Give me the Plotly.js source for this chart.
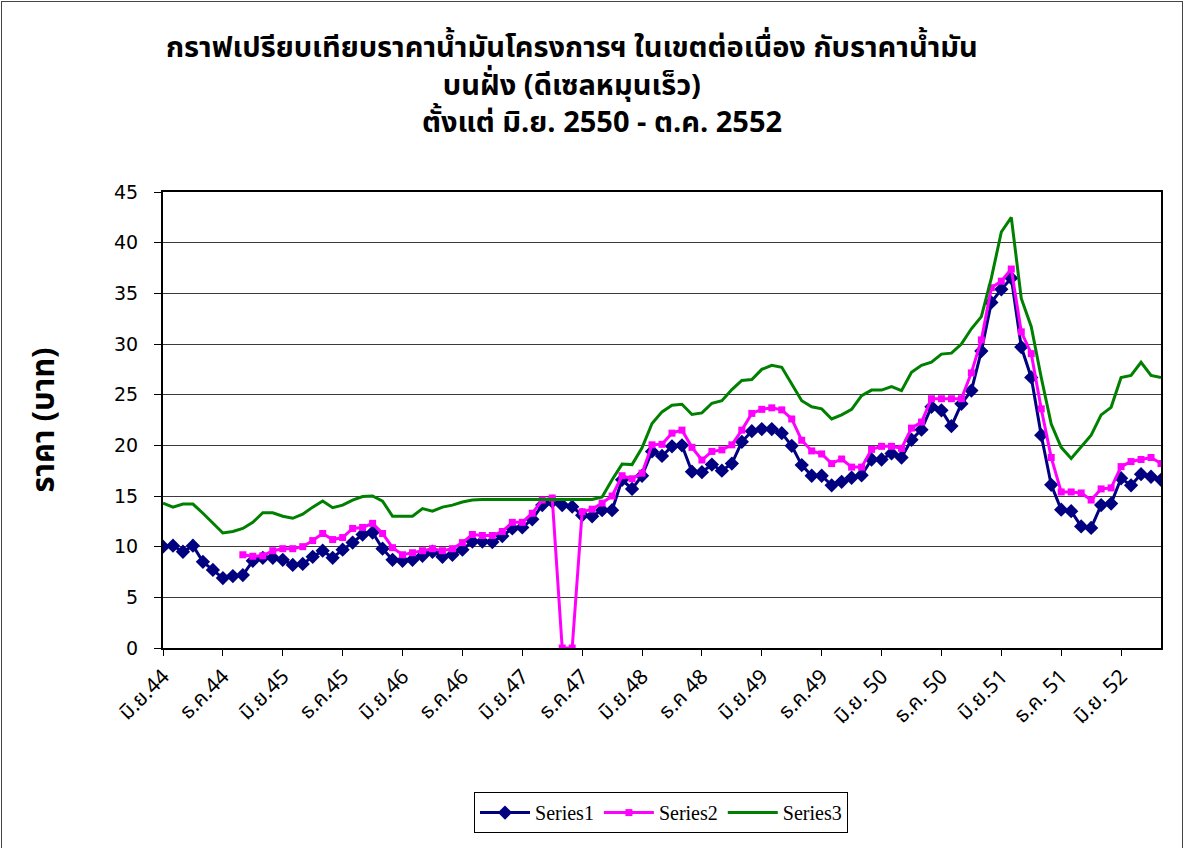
<!DOCTYPE html>
<html>
<head>
<meta charset="utf-8">
<script src="https://cdn.plot.ly/plotly-3.0.1.min.js"></script>
<style>
  html, body { margin: 0; padding: 0; background: #ffffff; overflow: hidden; }
  #chart { width: 1184px; height: 848px; position: absolute; left: 0; top: 0; }
  #frame { position: absolute; left: 1px; top: 1px; width: 1180px; height: 900px; border: 1px solid #444; pointer-events: none; }
</style>
</head>
<body>
<div id="chart"></div>
<div id="frame"></div>
<script>
// ---- Data ----
const monthNames = ['มิ.ย.','ก.ค.','ส.ค.','ก.ย.','ต.ค.','พ.ย.','ธ.ค.','ม.ค.','ก.พ.','มี.ค.','เม.ย.','พ.ค.'];
const startYear = 44;
const nMonths = 101;

const tickLabels = ['มิ.ย.44','ธ.ค.44','มิ.ย.45','ธ.ค.45','มิ.ย.46','ธ.ค.46','มิ.ย.47','ธ.ค.47',
  'มิ.ย.48','ธ.ค 48','มิ.ย.49','ธ.ค.49','มิ.ย. 50','ธ.ค. 50','มิ.ย.51','ธ.ค. 51','มิ.ย. 52'];

const series1 = [10.0,10.1,9.5,10.1,8.5,7.7,6.9,7.1,7.2,8.6,
  8.9,8.9,8.7,8.2,8.3,9.0,9.6,8.9,9.7,10.4,
  11.2,11.4,9.8,8.7,8.6,8.7,9.1,9.5,9.0,9.2,
  9.7,10.5,10.5,10.45,11.05,11.8,11.9,12.7,14.1,14.45,
  14.1,13.95,13.1,13.0,13.6,13.6,16.6,15.7,17.0,19.4,
  18.95,19.9,20.0,17.4,17.35,18.1,17.5,18.2,20.35,21.4,
  21.6,21.6,21.2,19.95,18.05,17.0,17.0,16.05,16.4,16.8,
  17.05,18.6,18.6,19.2,18.8,20.55,21.55,23.8,23.45,21.9,
  24.1,25.4,29.3,34.1,35.4,36.5,29.7,26.7,21.0,16.1,
  13.65,13.5,12.0,11.85,14.1,14.25,16.75,16.05,17.15,16.9,
  16.6];

const series2 = [null,null,null,null,null,null,null,null,9.2,9.05,
  9.1,9.6,9.8,9.8,10.0,10.6,11.3,10.7,10.9,11.8,
  11.9,12.3,11.3,9.9,9.2,9.4,9.6,9.8,9.6,9.8,
  10.4,11.2,11.1,11.1,11.5,12.4,12.4,13.3,14.6,14.8,
  0,0,13.45,13.7,14.3,15.0,17.0,16.7,17.25,20.05,
  20.1,21.2,21.5,19.8,18.55,19.4,19.55,20.05,21.5,23.15,
  23.55,23.7,23.5,22.6,20.5,19.45,19.15,18.2,18.65,17.85,
  17.85,19.6,19.9,19.9,19.7,21.7,22.3,24.6,24.6,24.6,
  24.6,27.15,30.4,35.55,36.2,37.4,31.2,29.05,23.6,18.8,
  15.4,15.4,15.3,14.6,15.7,15.8,17.9,18.4,18.6,18.8,
  18.2];

const series3 = [14.3,13.9,14.2,14.2,13.3,12.3,11.35,11.5,11.8,12.4,
  13.35,13.35,13.0,12.8,13.2,13.9,14.5,13.85,14.1,14.6,
  14.95,15.0,14.5,13.0,13.0,13.0,13.75,13.5,13.9,14.1,
  14.4,14.6,14.65,14.65,14.65,14.65,14.65,14.65,14.65,14.65,
  14.65,14.65,14.65,14.65,14.9,16.6,18.15,18.1,19.75,22.15,
  23.3,23.95,24.05,23.05,23.2,24.15,24.4,25.5,26.4,26.5,
  27.5,27.9,27.7,26.0,24.4,23.8,23.6,22.6,23.0,23.55,
  24.9,25.45,25.45,25.8,25.4,27.2,27.9,28.2,29.0,29.1,
  30.0,31.5,32.7,36.5,41.05,42.5,34.5,31.7,26.7,22.1,
  19.8,18.7,19.8,21.0,23.0,23.75,26.7,26.9,28.2,26.9,
  26.7];

// ---- Build categories (monthly) ----
const categories = [];
for (let i = 0; i < nMonths; i++) {
  const m = i % 12;
  const yr = startYear + Math.floor((i + 5) / 12);
  categories.push(monthNames[m] + yr);
}
const tickVals = [];
for (let i = 0; i < nMonths; i += 6) tickVals.push(categories[i]);

const thaiFont = "Tahoma, 'Noto Sans Thai', 'Noto Sans Thai UI', 'Loma', 'Garuda', 'DejaVu Sans', sans-serif";
const numFont = "'DejaVu Sans', Tahoma, sans-serif";

const titleLines = ['กราฟเปรียบเทียบราคาน้ำมันโครงการฯ ในเขตต่อเนื่อง กับราคาน้ำมัน',
  'บนฝั่ง (ดีเซลหมุนเร็ว)',
  '\u00A0\u00A0\u00A0\u00A0\u00A0\u00A0\u00A0\u00A0ตั้งแต่ มิ.ย. 2550 - ต.ค. 2552'];

const traces = [
  { x: categories, y: series1, name: 'Series1', type: 'scatter', mode: 'lines+markers',
    line: { color: '#000080', width: 3 },
    marker: { symbol: 'diamond', size: 11, color: '#000080' } },
  { x: categories, y: series2, name: 'Series2', type: 'scatter', mode: 'lines+markers',
    line: { color: '#FF00FF', width: 3 }, connectgaps: false,
    marker: { symbol: 'square', size: 7, color: '#FF00FF' } },
  { x: categories, y: series3, name: 'Series3', type: 'scatter', mode: 'lines',
    line: { color: '#008000', width: 3 } }
];

const layout = {
  width: 1184, height: 848,
  paper_bgcolor: '#ffffff', plot_bgcolor: '#ffffff',
  margin: { l: 163, r: 23, t: 192, b: 200 },
  title: {
    text: titleLines.map(s => '<b>' + s + '</b>').join('<br>'),
    font: { family: thaiFont, size: 29, color: '#000000' },
    xref: 'container', x: 0.483, xanchor: 'center',
    yref: 'container', y: 0.933, yanchor: 'middle'
  },
  showlegend: true,
  legend: {
    orientation: 'h', x: 0.499, xanchor: 'center', y: -0.316, yanchor: 'top',
    bordercolor: '#000000', borderwidth: 1, bgcolor: '#ffffff',
    font: { family: "'Liberation Serif', 'Times New Roman', serif", size: 20, color: '#000000' },
    itemwidth: 50
  },
  xaxis: {
    type: 'category',
    range: [0, nMonths - 1],
    tickmode: 'array', tickvals: tickVals, ticktext: tickLabels,
    tickangle: -45,
    ticks: 'outside', ticklen: 6, tickcolor: '#000000', tickwidth: 1,
    showline: true, linecolor: '#000000', linewidth: 2, mirror: true,
    showgrid: false, zeroline: false,
    tickfont: { family: thaiFont, size: 21, color: '#000000' }
  },
  yaxis: {
    range: [0, 45], tickmode: 'linear', tick0: 0, dtick: 5,
    ticks: 'outside', ticklen: 7, tickcolor: '#000000', tickwidth: 1,
    ticklabelstandoff: 12,
    showline: true, linecolor: '#000000', linewidth: 2, mirror: true,
    showgrid: true, gridcolor: '#3a3a3a', gridwidth: 1,
    zeroline: false,
    tickfont: { family: numFont, size: 19, color: '#000000' },
    title: { text: '<b>ราคา (บาท)</b>', font: { family: thaiFont, size: 31, color: '#000000' }, standoff: 50 }
  }
};

Plotly.newPlot('chart', traces, layout, { displayModeBar: false, staticPlot: true });
</script>
</body>
</html>
